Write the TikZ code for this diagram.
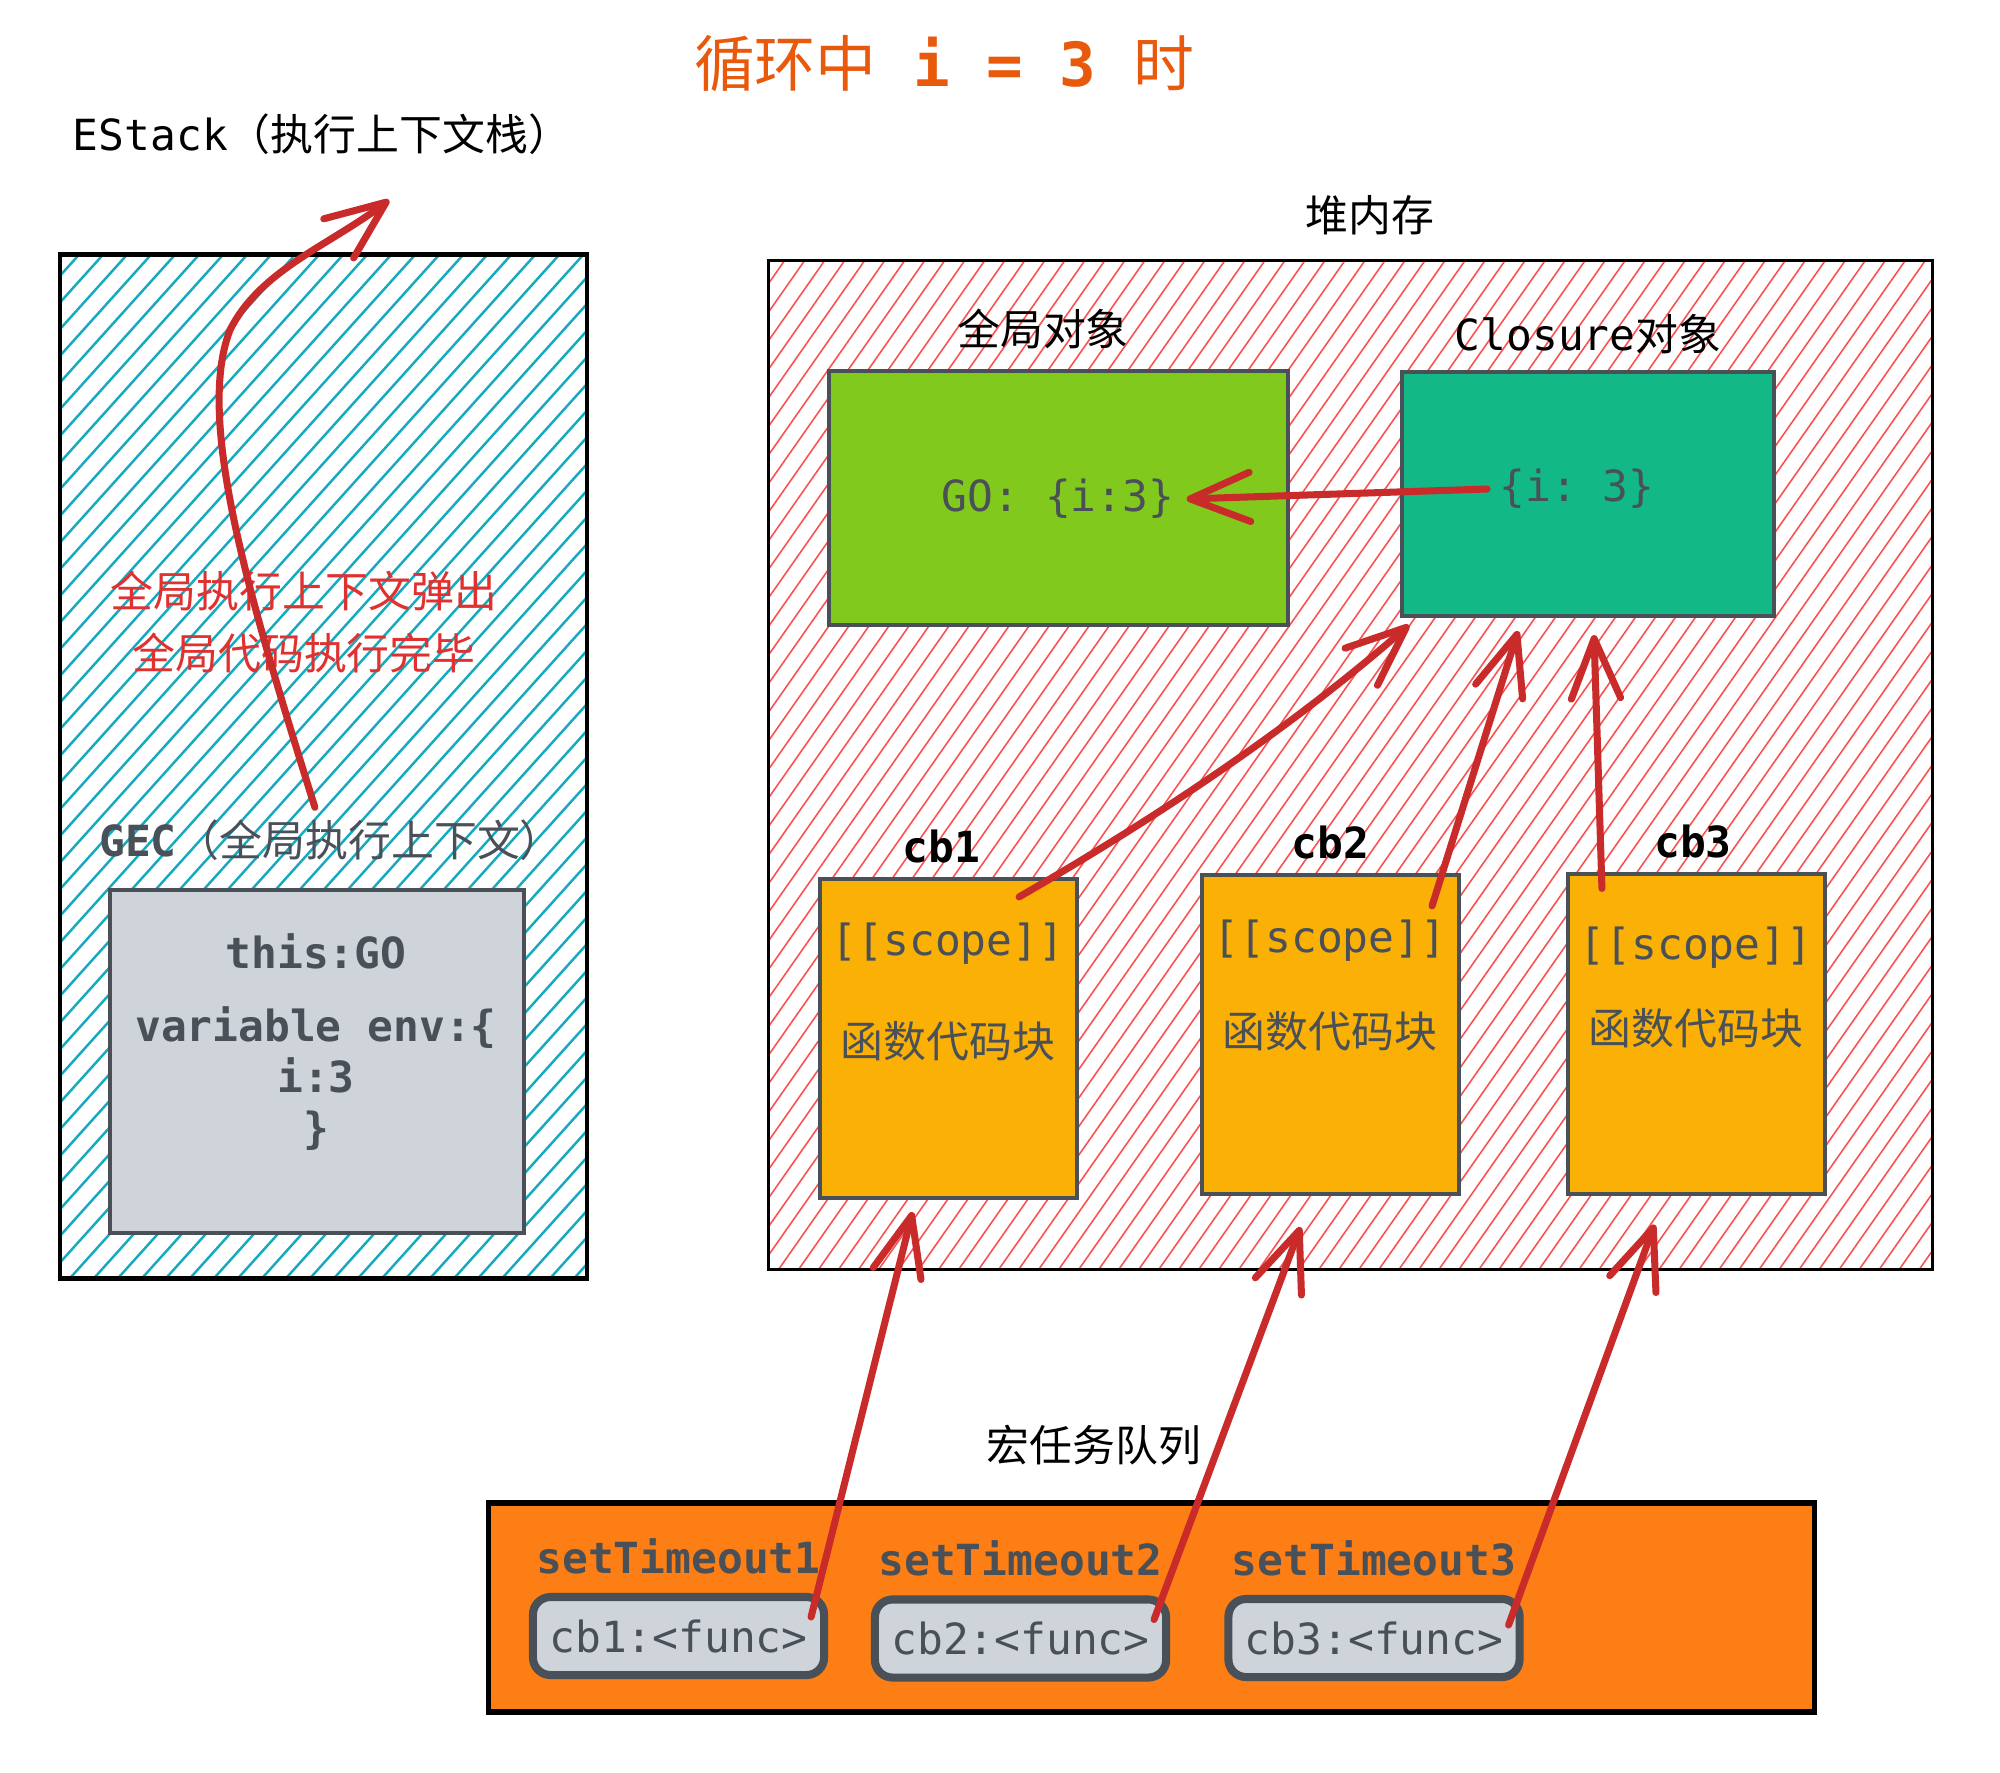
\documentclass[tikz,border=0pt]{standalone}
\usepackage{fontspec}
\setmainfont{Noto Sans CJK SC}
\setmonofont{DejaVu Sans Mono}
\usepackage{tikz}
\usetikzlibrary{positioning}
\usetikzlibrary{calc}
\usetikzlibrary{arrows.meta}
\definecolor{titleorange}{HTML}{E8590C}
\definecolor{popred}{HTML}{E03131}
\definecolor{arrowred}{HTML}{C92A2A}
\definecolor{hatchcyan}{HTML}{15AABF}
\definecolor{hatchred}{HTML}{FA5252}
\definecolor{gogreen}{HTML}{82C91E}
\definecolor{closureteal}{HTML}{12B886}
\definecolor{cbyellow}{HTML}{FAB005}
\definecolor{queueorange}{HTML}{FD7E14}
\definecolor{grayfill}{HTML}{CED4DA}
\definecolor{darkgray}{HTML}{495057}
\tikzset{
  every node/.style={font=\fontsize{12.2pt}{15pt}\selectfont},
  codetext/.style={font=\fontsize{12.2pt}{15pt}\selectfont\ttfamily, text=darkgray},
  codebold/.style={font=\fontsize{12.2pt}{14.5pt}\selectfont\ttfamily\bfseries, text=darkgray},
  cblabel/.style={font=\fontsize{12.2pt}{15pt}\selectfont\ttfamily\bfseries},
  stackhatch/.style={path picture={
    \foreach \k in {0,...,64}
      \draw [hatchcyan, line width=0.7pt] ([xshift=\k*2.4mm-95mm]path picture bounding box.south west) -- ++(48:150mm);
  }},
  heaphatch/.style={path picture={
    \foreach \k in {0,...,100}
      \draw [hatchred, line width=0.45pt] ([xshift=\k*2mm-75mm]path picture bounding box.south west) -- ++(55:130mm);
  }},
  objbox/.style={draw=darkgray, line width=1.1pt, inner sep=0pt, outer sep=0pt},
  cbbox/.style={objbox, fill=cbyellow, minimum width=2.57cm, minimum height=3.19cm},
  pill/.style={draw=darkgray, line width=2.3pt, fill=grayfill, rounded corners=5pt, inner sep=0pt, outer sep=0pt, minimum width=2.91cm, minimum height=0.78cm, codetext},
  redarrow/.style={draw=arrowred, line width=2pt, line cap=round, -{Straight Barb[length=17pt,width=14pt,round]}}
}
\begin{document}
\begin{tikzpicture}[x=0.01cm, y=-0.01cm]
\useasboundingbox (0,0) rectangle (2000,1772);
\node (title) [text=titleorange, font=\fontsize{17.3pt}{20pt}\selectfont] at (944,64) {循环中{\ttfamily\bfseries\ i = 3\ }时};
\node (estack) at (322,134) {{\ttfamily EStack}（执行上下文栈）};
\node (stack) [draw, line width=1.3pt, outer sep=0pt, minimum width=5.27cm, minimum height=10.23cm, stackhatch] at (323.5,766.5) {};
\node (env) [objbox, fill=grayfill, minimum width=4.14cm, minimum height=3.43cm] at (317,1061.5) {};
\node (gec) [above=4.8pt of env, xshift=4pt, text=darkgray] {{\ttfamily\bfseries GEC}（全局执行上下文）};
\node (envtext) [codebold, align=center] at (316,1042) {this:GO\\[6pt]variable env:\{\\i:3\\\}};
\node (pop) [text=popred, align=center, font=\fontsize{12.2pt}{17.6pt}\selectfont] at (304,622) {全局执行上下文弹出\\全局代码执行完毕};
\coordinate (popped) at (389,200);
\node (heap) [draw, line width=1pt, outer sep=0pt, minimum width=11.63cm, minimum height=10.08cm, heaphatch] at (1350.5,765) {};
\node (heaplbl) at (1370,215) {堆内存};
\node (gobox) [objbox, fill=gogreen, minimum width=4.59cm, minimum height=2.54cm] at (1058.5,498) {};
\node (golbl) at (1043,329) {全局对象};
\node (gotext) [codetext] at (1058,499) {GO: \{i:3\}};
\node (clobox) [objbox, fill=closureteal, minimum width=3.72cm, minimum height=2.44cm] at (1588,494) {};
\node (clolbl) at (1588,334) {{\ttfamily Closure}对象};
\node (clotext) [codetext] at (1577,489) {\{i: 3\}};
\node (cbA) [cbbox] at (948.5,1038.5) {};
\node (cbB) [cbbox] at (1330.5,1034.5) {};
\node (cbC) [cbbox] at (1696.5,1034) {};
\node (cbAlbl) [cblabel, above=1pt of cbA, xshift=-2pt] {cb1};
\node (cbBlbl) [cblabel, above=1pt of cbB] {cb2};
\node (cbClbl) [cblabel, above=1pt of cbC, xshift=-1pt] {cb3};
\node (scopeA) [codetext] at (948,944) {[[scope]]};
\node (scopeB) [codetext] at (1330,941) {[[scope]]};
\node (scopeC) [codetext] at (1696,948) {[[scope]]};
\node (fnA) [text=darkgray] at (948,1041) {函数代码块};
\node (fnB) [text=darkgray] at (1330,1031) {函数代码块};
\node (fnC) [text=darkgray] at (1696,1028) {函数代码块};
\node (queue) [draw, line width=1.6pt, fill=queueorange, outer sep=0pt, minimum width=13.25cm, minimum height=2.09cm] at (1151.5,1607.5) {};
\node (queuelbl) at (1094,1445) {宏任务队列};
\node (pillA) [pill] at (678.5,1636) {cb1:<func>};
\node (pillB) [pill] at (1020.5,1638.5) {cb2:<func>};
\node (pillC) [pill] at (1374,1638) {cb3:<func>};
\node (stA) [codebold, above=3pt of pillA] {setTimeout1};
\node (stB) [codebold, above=3pt of pillB] {setTimeout2};
\node (stC) [codebold, above=3pt of pillC] {setTimeout3};
\draw [redarrow] ([xshift=-4.6pt]gec.north) .. controls (250,600) and (195,420) .. (230,330) .. controls (260,270) and (330,245) .. (popped);
\draw [redarrow] (clotext.west) -- (gotext.east);
\draw [redarrow] ([shift={(-58,18)}]cbA.north east) .. controls +(137,-79) and +(-119,104) .. ([shift={(7,9)}]clobox.south west);
\draw [redarrow] ([shift={(-27,31)}]cbB.north east) -- ([shift={(-70,15)}]clobox.south);
\draw [redarrow] ([shift={(34,14)}]cbC.north west) -- ([shift={(6,19)}]clobox.south);
\draw [redarrow] ([shift={(-13,20)}]pillA.north east) -- ([shift={(-36,14)}]cbA.south);
\draw [redarrow] ([shift={(-12,20)}]pillB.north east) -- ([shift={(-30,33)}]cbB.south);
\draw [redarrow] ([shift={(-11,26)}]pillC.north east) -- ([shift={(-42,31)}]cbC.south);
\end{tikzpicture}
\end{document}
